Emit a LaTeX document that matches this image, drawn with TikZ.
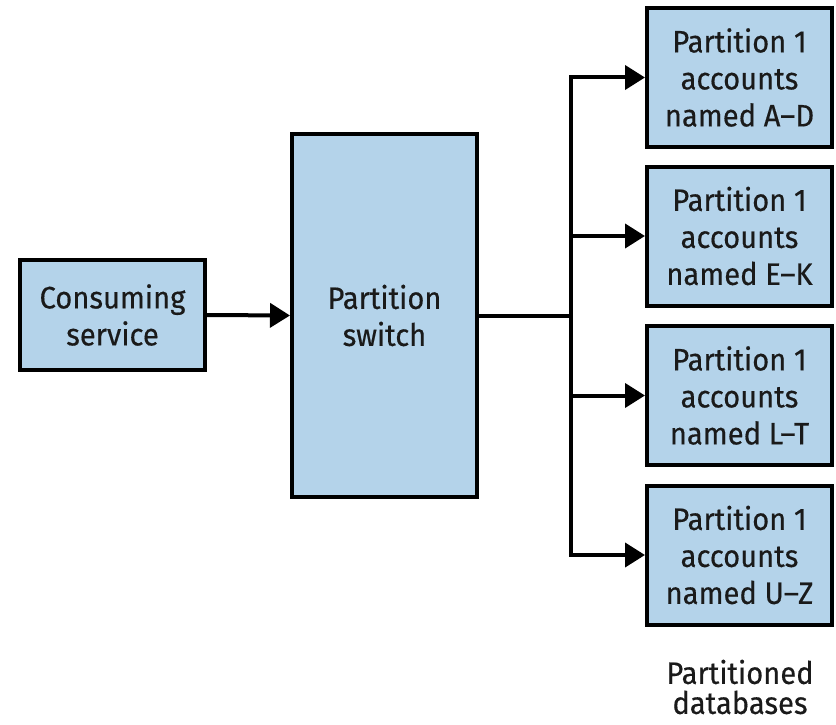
\documentclass[tikz,border=0pt]{standalone}
\usepackage{fontspec}
\setmainfont[FakeStretch=0.94,FakeBold=0.4]{Fira Sans}
\usetikzlibrary{arrows.meta}
\definecolor{boxblue}{HTML}{B4D3EA}
\definecolor{textdark}{HTML}{1A1A1A}
\begin{document}
\begin{tikzpicture}[x=1pt,y=-1pt,
  box/.style={draw=black, fill=boxblue, line width=4pt, rectangle, align=center,
    text=textdark, font=\fontsize{31}{37}\selectfont, inner sep=0pt},
  conn/.style={line width=4pt, -{Triangle[length=20pt,width=24pt]}},
  plain/.style={line width=4pt}]
\useasboundingbox (0,0) rectangle (836,725);
\node[box, minimum width=185pt, minimum height=110pt] (cs) at (112.5,315) {Consuming\\service};
\node[box, minimum width=185pt, minimum height=363pt] (ps) at (384.5,315.5) {Partition\\switch};
\node[box, minimum width=185pt, minimum height=139pt] (db1) at (739.5,77.5) {Partition 1\\accounts\\named A–D};
\node[box, minimum width=185pt, minimum height=139pt] (db2) at (739.5,236) {Partition 1\\accounts\\named E–K};
\node[box, minimum width=185pt, minimum height=139pt] (db3) at (739.5,395.5) {Partition 1\\accounts\\named L–T};
\node[box, minimum width=185pt, minimum height=139pt] (db4) at (739.5,555) {Partition 1\\accounts\\named U–Z};
\node[align=center, text=textdark, font=\fontsize{31}{30}\selectfont, inner sep=0pt] (lbl) at (740,687) {Partitioned\\databases};
\coordinate (trunk) at (571,315.5);
\draw[conn] (cs.east) -- (ps.west);
\draw[plain] (ps.east) -- (trunk);
\draw[conn] (trunk) |- (db1.west);
\draw[conn] (trunk) |- (db2.west);
\draw[conn] (trunk) |- (db3.west);
\draw[conn] (trunk) |- (db4.west);
\end{tikzpicture}
\end{document}
